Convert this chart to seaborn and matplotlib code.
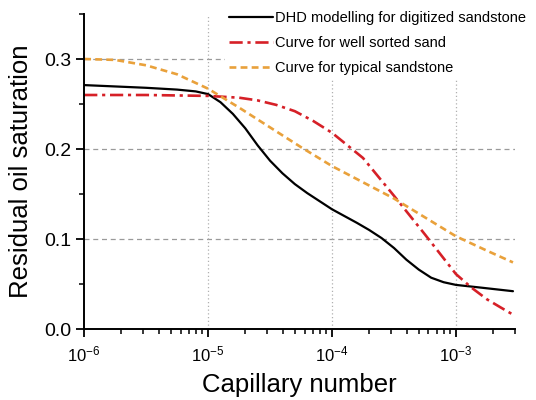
import numpy as np
import pandas as pd
import seaborn as sns
import matplotlib.pyplot as plt
from matplotlib.ticker import LogLocator, MultipleLocator, NullFormatter


# =========================
# Data
# =========================

dhd_log_ca = [-6.0, -5.5, -5.25, -5.1, -5.0, -4.9, -4.8, -4.7, -4.6, -4.5,
              -4.4, -4.3, -4.2, -4.0, -3.8, -3.7, -3.6, -3.5, -3.4, -3.3,
              -3.2, -3.1, -3.0, -2.8, -2.54]
dhd_sor = [0.271, 0.268, 0.266, 0.264, 0.261, 0.252, 0.239, 0.223, 0.204, 0.187,
           0.173, 0.161, 0.151, 0.133, 0.118, 0.110, 0.101, 0.090, 0.077, 0.066,
           0.057, 0.052, 0.049, 0.046, 0.042]

well_log_ca = [-6.0, -5.5, -5.0, -4.75, -4.6, -4.45, -4.3, -4.15, -4.0, -3.75,
               -3.5, -3.25, -3.0, -2.875, -2.75, -2.64, -2.54]
well_sor = [0.260, 0.260, 0.259, 0.257, 0.254, 0.249, 0.242, 0.231, 0.218, 0.190,
            0.148, 0.105, 0.061, 0.046, 0.033, 0.024, 0.016]

typ_log_ca = [-6.0, -5.75, -5.5, -5.25, -5.0, -4.75, -4.5, -4.25, -4.0,
              -3.75, -3.5, -3.25, -3.0, -2.75, -2.54]
typ_sor = [0.300, 0.299, 0.293, 0.283, 0.267, 0.246, 0.224, 0.202, 0.181,
           0.163, 0.145, 0.124, 0.103, 0.087, 0.074]

labels = [
    "DHD modelling for digitized sandstone",
    "Curve for well sorted sand",
    "Curve for typical sandstone",
]


# =========================
# Style
# =========================

sns.set_style("ticks")
plt.rcParams["font.family"] = ["Liberation Sans", "DejaVu Sans"]
plt.rcParams["mathtext.default"] = "regular"
plt.rcParams["axes.unicode_minus"] = False
plt.rcParams["text.color"] = "black"
plt.rcParams["axes.labelcolor"] = "black"


# =========================
# Plot
# =========================

fig = plt.figure(figsize=(5.36, 4.0), dpi=100)
ax = fig.add_axes([0.157, 0.1775, 0.804, 0.7875])

series = [
    (dhd_log_ca, dhd_sor, labels[0], "black", "-", 1.6),
    (well_log_ca, well_sor, labels[1], "#d62027", (0, (5, 1.8, 1.2, 1.8)), 1.9),
    (typ_log_ca, typ_sor, labels[2], "#e9a13b", (0, (2.6, 1.6)), 1.9),
]

for log_ca, sor, label, color, ls, lw in series:
    df = pd.DataFrame({"ca": 10.0 ** np.array(log_ca), "sor": sor})
    sns.lineplot(
        data=df,
        x="ca",
        y="sor",
        ax=ax,
        color=color,
        linestyle=ls,
        linewidth=lw,
        label=label,
        sort=False,
    )

ax.set_xscale("log")
ax.set_xlim(1e-6, 3e-3)
ax.set_ylim(0, 0.35)

ax.set_yticks([0.0, 0.1, 0.2, 0.3])
ax.yaxis.set_minor_locator(MultipleLocator(0.05))
ax.xaxis.set_major_locator(LogLocator(base=10, numticks=10))
ax.xaxis.set_minor_locator(LogLocator(base=10, subs=np.arange(2, 10), numticks=20))
ax.xaxis.set_minor_formatter(NullFormatter())

# grid lines
for yv in [0.1, 0.2, 0.3]:
    ax.axhline(yv, color="#9a9a9a", linestyle=(0, (4, 3)), linewidth=0.9, zorder=0)
for xv in [1e-5, 1e-4, 1e-3]:
    ax.axvline(xv, color="#b0b0b0", linestyle=(0, (1, 2)), linewidth=0.9, zorder=0)

sns.despine(ax=ax)
for side in ["left", "bottom"]:
    ax.spines[side].set_linewidth(1.4)
    ax.spines[side].set_color("black")

ax.tick_params(which="major", direction="out", length=6, width=1.3,
               labelsize=14, colors="black", pad=3)
ax.tick_params(which="minor", direction="out", length=3.5, width=1.1, colors="black")
ax.tick_params(axis="x", which="major", labelsize=12, pad=5)

ax.set_xlabel("Capillary number", fontsize=18.5, labelpad=6)
ax.set_ylabel("Residual oil saturation", fontsize=18.5, labelpad=8)

leg = ax.legend(
    loc="upper right",
    bbox_to_anchor=(0.995, 0.99),
    bbox_transform=fig.transFigure,
    fontsize=10.5,
    frameon=True,
    handlelength=3.0,
    handletextpad=0.15,
    labelspacing=0.75,
    borderpad=0.3,
    borderaxespad=0.2,
)
leg.get_frame().set_facecolor("white")
leg.get_frame().set_edgecolor("none")
leg.get_frame().set_alpha(1)

plt.savefig("out.png", dpi=100)
